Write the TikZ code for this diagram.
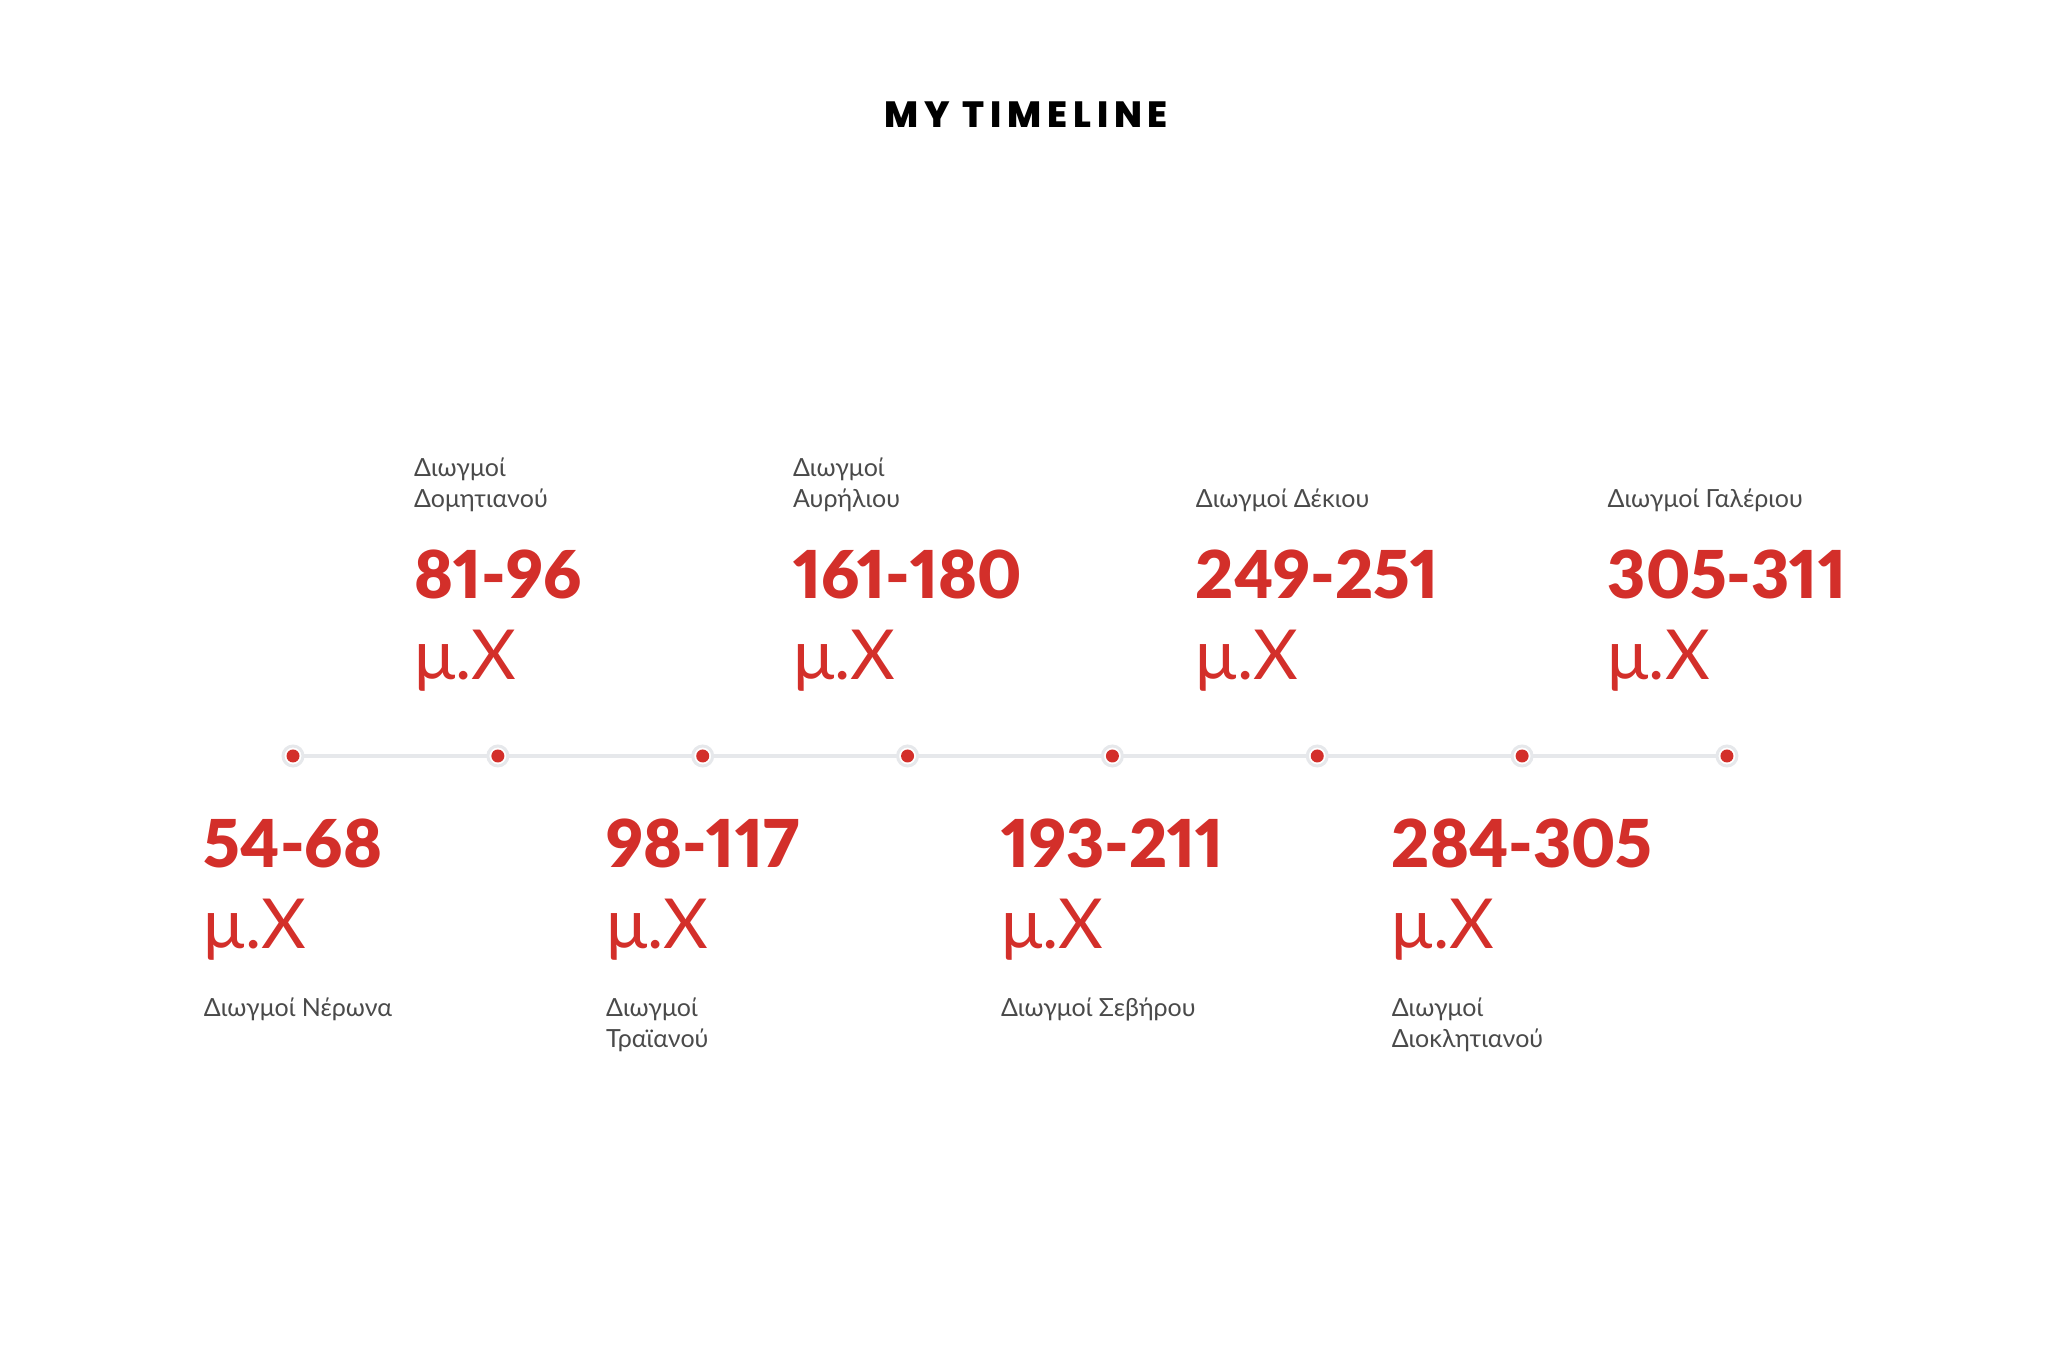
\documentclass[tikz,border=0pt]{standalone}
\usepackage{fontspec}
\setmainfont{Lato}[Numbers=Proportional]
\newfontfamily\titlefont{Poppins ExtraBold}[LetterSpace=16]
\newfontfamily\yearfont{Lato Black}[Numbers=Proportional]
\usepackage{tikz}
\usetikzlibrary{positioning,calc}

\definecolor{tlred}{HTML}{D32F2A}
\definecolor{tlgray}{HTML}{4A4A4A}
\definecolor{tlline}{HTML}{E6E8EB}

\begin{document}
\begin{tikzpicture}[x=1pt,y=1pt,inner sep=0pt,outer sep=0pt]
\tikzstyle{headline}=[font=\titlefont\fontsize{36.5}{36.5}\selectfont, text=black, anchor=base]
\tikzstyle{years}=[font=\yearfont\fontsize{66}{66}\selectfont, text=tlred, anchor=base]
\tikzstyle{era}=[font=\fontsize{69}{69}\selectfont, text=tlred, anchor=base west]
\tikzstyle{caption}=[font=\fontsize{25}{31}\selectfont, text=tlgray, anchor=base west]
\tikzstyle{ring}=[circle, draw=tlline, line width=3pt, fill=white, minimum size=20pt]
\tikzstyle{dot}=[circle, fill=tlred, minimum size=13pt]
\tikzstyle{track}=[draw=tlline, line width=4pt]
\useasboundingbox (0,0) rectangle (2048,1364);

\node[headline] (title) at (1026,1236) {MY TIMELINE};

% the axis
\foreach \i in {1,...,8}
  \coordinate (p\i) at ({293+(\i-1)*204.85},608);
\draw[track] (p1) -- (p8);
\foreach \i in {1,...,8}{
  \node[ring] (r\i) at (p\i) {};
  \node[dot] (d\i) at (p\i) {};
}

% below the axis
\node[years] (y1) at ([yshift=-112pt]d1.center) {54-68};
\node[era] (e1) at ([yshift=-81pt]y1.base west) {μ.Χ};
\node[caption] (c1) at ([yshift=-149pt]y1.base west) {Διωγμοί Νέρωνα};

\node[years] (y3) at ([yshift=-112pt]d3.center) {98-117};
\node[era] (e3) at ([yshift=-81pt]y3.base west) {μ.Χ};
\node[caption] (c3) at ([yshift=-149pt]y3.base west) {Διωγμοί};
\node[caption] (c3b) at ([yshift=-31pt]c3.base west) {Τραϊανού};

\node[years] (y5) at ([yshift=-112pt]d5.center) {193-211};
\node[era] (e5) at ([yshift=-81pt]y5.base west) {μ.Χ};
\node[caption] (c5) at ([yshift=-149pt]y5.base west) {Διωγμοί Σεβήρου};

\node[years] (y7) at ([yshift=-112pt]d7.center) {284-305};
\node[era] (e7) at ([yshift=-81pt]y7.base west) {μ.Χ};
\node[caption] (c7) at ([yshift=-149pt]y7.base west) {Διωγμοί};
\node[caption] (c7b) at ([yshift=-31pt]c7.base west) {Διοκλητιανού};

% above the axis
\node[years] (y2) at ([yshift=157pt]d2.center) {81-96};
\node[era] (e2) at ([yshift=-81pt]y2.base west) {μ.Χ};
\node[caption] (c2b) at ([yshift=91pt]y2.base west) {Δομητιανού};
\node[caption] (c2) at ([yshift=31pt]c2b.base west) {Διωγμοί};

\node[years] (y4) at ([yshift=157pt]d4.center) {161-180};
\node[era] (e4) at ([yshift=-81pt]y4.base west) {μ.Χ};
\node[caption] (c4b) at ([yshift=91pt]y4.base west) {Αυρήλιου};
\node[caption] (c4) at ([yshift=31pt]c4b.base west) {Διωγμοί};

\node[years] (y6) at ([yshift=157pt]d6.center) {249-251};
\node[era] (e6) at ([yshift=-81pt]y6.base west) {μ.Χ};
\node[caption] (c6) at ([yshift=91pt]y6.base west) {Διωγμοί Δέκιου};

\node[years] (y8) at ([yshift=157pt]d8.center) {305-311};
\node[era] (e8) at ([yshift=-81pt]y8.base west) {μ.Χ};
\node[caption] (c8) at ([yshift=91pt]y8.base west) {Διωγμοί Γαλέριου};
\end{tikzpicture}
\end{document}
